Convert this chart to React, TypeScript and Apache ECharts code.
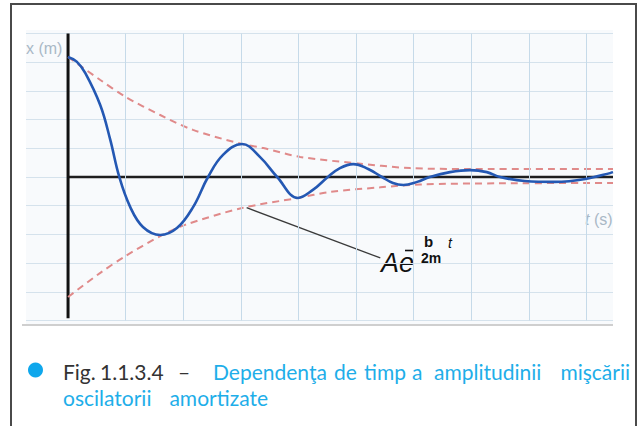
import React, { useEffect, useRef } from "react";
import * as echarts from "echarts";

// time (grid units) and displacement (grid units)
const curveT = [0, 0.15, 0.3, 0.56, 0.73, 0.89, 1.08, 1.3, 1.6, 1.89, 2.17, 2.43, 2.69, 3.02, 3.33, 3.63, 3.99, 4.25, 4.51, 4.72, 4.95, 5.21, 5.45, 5.64, 5.82, 6.06, 6.28, 6.63, 6.98, 7.27, 7.5, 7.93, 8.45, 8.98, 9.46];
const curveX = [4.18, 4.02, 3.62, 2.5, 1.32, 0, -1.05, -1.74, -2.02, -1.78, -1.05, 0, 0.77, 1.15, 0.7, 0, -0.73, -0.45, 0, 0.31, 0.45, 0.28, 0, -0.21, -0.28, -0.17, 0, 0.17, 0.24, 0.17, 0, -0.14, -0.17, -0.07, 0.17];

const upperT = [0, 0.56, 1.0, 1.6, 2.17, 3.02, 3.39, 4.03, 4.95, 5.94, 6.98, 9.46];
const upperX = [4.18, 3.38, 2.79, 2.16, 1.64, 1.15, 1.01, 0.7, 0.49, 0.31, 0.28, 0.28];

const lowerT = [0, 0.56, 1.0, 1.6, 2.03, 3.02, 3.99, 4.55, 5.42, 6.11, 7.5, 9.46];
const lowerX = [-4.18, -3.34, -2.75, -2.06, -1.67, -1.08, -0.73, -0.52, -0.36, -0.26, -0.22, -0.21];

const gridT = [1, 2, 3, 4, 5, 6, 7, 8, 9];
const axisEndT = 9.46;
const yAxisTop = 5;
const yAxisBottom = -4.92;
const leaderT = [3.1, 5.42];
const leaderX = [-1.07, -2.82];

const captionLine1Dark = [
  { w: "Fig.", x: 63, a: "left" },
  { w: "1.1.3.4", x: 100, a: "left" },
  { w: "–", x: 178, a: "left" },
];
const captionLine1 = [
  { w: "Dependenţa", x: 213, a: "left" },
  { w: "de", x: 334, a: "left" },
  { w: "timp", x: 364, a: "left" },
  { w: "a", x: 412, a: "left" },
  { w: "amplitudinii", x: 434, a: "left" },
  { w: "mişcării", x: 630, a: "right" },
];
const captionLine2 = [
  { w: "oscilatorii", x: 63, a: "left" },
  { w: "amortizate", x: 268, a: "right" },
];

const zip = (a: number[], b: number[]) => a.map((v, i) => [v, b[i]]);

export default function App() {
  const ref = useRef<HTMLDivElement>(null);
  useEffect(() => {
    const chart = echarts.init(ref.current!, null, { renderer: "svg" });
    const capFont = "21px Lato";
    const blue = "#1eaee9";
    const word = (c: any, y: number, fill: string) => ({
      type: "text", x: c.x, y,
      style: { text: c.w, font: capFont, fill, verticalAlign: "middle", align: c.a },
    });
    const graphic: any[] = [
      { type: "rect", z: -10, shape: { x: 26, y: 30, width: 587, height: 295 }, style: { fill: "#f8fafc" } },
      { type: "rect", z: -9, shape: { x: 22, y: 324, width: 591, height: 2 }, style: { fill: "#cfcfcf" } },
      { type: "rect", z: 10, shape: { x: 11, y: 4, width: 625, height: 450 }, style: { fill: "none", stroke: "#4a4a4a", lineWidth: 2 } },
      { type: "text", x: 26, y: 48, style: { text: "x (m)", font: "16px 'Liberation Sans'", fill: "#a9b8c6", verticalAlign: "middle" } },
      {
        type: "text", x: 585, y: 219,
        style: {
          text: "{i|t} (s)", font: "16px 'Liberation Sans'", fill: "#a9b8c6", verticalAlign: "middle",
          rich: { i: { fontStyle: "italic", fontSize: 16, fontFamily: "Liberation Sans", fill: "#a9b8c6" } },
        },
      },
      { type: "text", x: 381, y: 263, style: { text: "Ae", font: "italic 27px 'Liberation Sans'", fill: "#111", verticalAlign: "middle" } },
      { type: "line", shape: { x1: 405, y1: 250.5, x2: 413, y2: 250.5 }, style: { stroke: "#111", lineWidth: 1.6 } },
      { type: "text", x: 424, y: 241, style: { text: "b", font: "bold 15px 'Liberation Sans'", fill: "#111", verticalAlign: "middle" } },
      { type: "text", x: 421, y: 258, style: { text: "2m", font: "bold 14px 'Liberation Sans'", fill: "#111", verticalAlign: "middle" } },
      { type: "text", x: 448, y: 243, style: { text: "t", font: "italic 14px 'Liberation Sans'", fill: "#111", verticalAlign: "middle" } },
      { type: "circle", shape: { cx: 35.5, cy: 370, r: 7.5 }, style: { fill: "#0fa7ec" } },
      ...captionLine1Dark.map((c) => word(c, 371.5, "#333")),
      ...captionLine1.map((c) => word(c, 371.5, blue)),
      ...captionLine2.map((c) => word(c, 397.5, blue)),
    ];
    chart.setOption({
      animation: false,
      grid: { left: 26, right: 28, top: 33.5, bottom: 105.5 },
      xAxis: { type: "value", min: -0.73, max: axisEndT, axisLine: { show: false }, axisTick: { show: false }, axisLabel: { show: false }, splitLine: { show: false } },
      yAxis: {
        type: "value", min: -5, max: 5, interval: 1,
        axisLine: { show: false }, axisTick: { show: false }, axisLabel: { show: false },
        splitLine: { show: true, lineStyle: { color: "#d5e2ec", width: 1 } },
      },
      graphic,
      series: [
        {
          type: "line", z: 1, data: [], silent: true,
          markLine: {
            silent: true, symbol: ["none", "none"], label: { show: false },
            lineStyle: { color: "#c6dae9", type: "solid", width: 1 },
            data: gridT.map((v) => ({ xAxis: v })),
          },
        },
        { type: "line", z: 3, data: [[0, 0], [axisEndT, 0]], symbol: "none", lineStyle: { color: "#1e1e1e", width: 2.5 }, silent: true },
        { type: "line", z: 3, data: [[0, yAxisBottom], [0, yAxisTop]], symbol: "none", lineStyle: { color: "#111", width: 3 }, silent: true },
        { type: "line", z: 4, data: zip(upperT, upperX), smooth: 0.3, symbol: "none", lineStyle: { color: "#e08a8a", width: 2, type: [7, 5] }, silent: true },
        { type: "line", z: 4, data: zip(lowerT, lowerX), smooth: 0.3, symbol: "none", lineStyle: { color: "#e08a8a", width: 2, type: [7, 5] }, silent: true },
        { type: "line", z: 4, data: zip(leaderT, leaderX), symbol: "none", lineStyle: { color: "#3a3a3a", width: 1.3 }, silent: true },
        { type: "line", z: 5, data: zip(curveT, curveX), smooth: 0.4, symbol: "none", lineStyle: { color: "#2458b3", width: 2.6 }, silent: true },
      ],
    });
    return () => chart.dispose();
  }, []);
  return <div ref={ref} style={{ position: "fixed", left: 0, top: 0, width: 641, height: 426, background: "#fff" }} />;
}
